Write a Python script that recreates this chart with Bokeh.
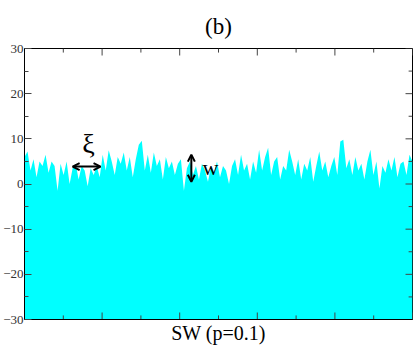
import numpy as np
from bokeh.plotting import figure
from bokeh.models import FixedTicker, Arrow, OpenHead, Label, Range1d
from bokeh.embed import file_html
from bokeh.resources import INLINE

# Surface heights (left to right, evenly spaced)
heights = [
    6, 7.2, 3, 5.5, 1.5, 5, 4, 6.5, 2.5, 5,
    4, -1.5, 4.5, 2, 5, 0, 3.5, 4.5, 1, 4,
    3, -0.5, 3.5, 2, 4, 1.5, 6.5, 3, 7.5, 5,
    2, 6, 4.5, 7, 3, 6, 1.5, 5.5, 8.7, 9.6,
    3, 6.5, 2.5, 7, 4, 5.5, 1, 6, 3.5, 5,
    2, 4.5, 5.5, -1.5, 3.5, 5, 2, 4, 1, 4.5,
    3, 0.5, 4, 2.5, 5, 1.5, 4, 3, 0, 4,
    5.5, 2, 6.5, 3, 4.5, 1, 5, 2.5, 7.6, 3,
    6, 8, 2, 5, 6, 1, 4, 3, 7.6, 5,
    2, 5.5, 1, 4.5, 3, 6, 0.5, 4, 7.2, 3,
    5, 1.5, 4, 6, 2, 9.4, 9.8, 3.5, 5.5, 2,
    6, 3, 4.5, 1, 5, 7.6, 2, 5, -1, 4,
    2.5, 5.5, 3, 6, 1.5, 4.5, 5, 2, 6.5, 5,
]
x_pos = np.linspace(0, 1000, len(heights))

X_MIN, X_MAX = 0, 1000
Y_MIN, Y_MAX = -30, 30
y_ticks = [-30, -20, -10, 0, 10, 20, 30]
y_minor = [-25, -15, -5, 5, 15, 25]
x_ticks = [0, 200, 400, 600, 800, 1000]
x_minor = [100, 300, 500, 700, 900]

# annotation positions (data units)
xi_arrow = (124, 196, 3.85)
w_arrow = (430, 6.5, 0.5)
xi_label = (165, 8.9)
w_label = (479, 3.6)

SERIF = "Liberation Serif"

p = figure(width=415, height=346, output_backend="svg", toolbar_location=None,
           x_range=Range1d(X_MIN, X_MAX), y_range=Range1d(Y_MIN, Y_MAX), title="(b)",
           min_border_top=48, min_border_bottom=25, min_border_left=24, min_border_right=3)

p.varea(x=x_pos, y1=Y_MIN, y2=heights, fill_color="#00FFFF")

p.xgrid.visible = False
p.ygrid.visible = False
p.outline_line_color = "black"
p.outline_line_width = 1

p.title.align = "center"
p.title.text_font = SERIF
p.title.text_font_size = "23px"
p.title.text_font_style = "normal"
p.title.text_color = "black"
p.title.standoff = 20

# left axis: real labels, inward ticks
ya = p.yaxis[0]
ya.ticker = FixedTicker(ticks=y_ticks, minor_ticks=y_minor)
ya.axis_line_color = "black"
ya.major_tick_in = 7
ya.major_tick_out = 0
ya.minor_tick_in = 4
ya.minor_tick_out = 0
ya.major_tick_line_color = "#444444"
ya.minor_tick_line_color = "#444444"
ya.major_label_text_font = SERIF
ya.major_label_text_font_size = "13px"
ya.major_label_text_color = "#333333"
ya.major_label_standoff = 1

# bottom axis: only the title; ticks drawn as segments below
xa = p.xaxis[0]
xa.ticker = FixedTicker(ticks=[])
xa.axis_line_color = "black"
xa.major_tick_in = 0
xa.major_tick_out = 0
xa.minor_tick_in = 0
xa.minor_tick_out = 0
xa.major_label_standoff = 0
xa.axis_label = "SW (p=0.1)"
xa.axis_label_text_font = SERIF
xa.axis_label_text_font_size = "20px"
xa.axis_label_text_font_style = "normal"
xa.axis_label_text_color = "black"
xa.axis_label_standoff = 2

# inward ticks on bottom, top and right edges (length in data units)
y_major_len, y_minor_len = 1.55, 0.9      # vertical ticks on horizontal edges
x_major_len, x_minor_len = 18, 10         # horizontal ticks on right edge
tick_color = "#444444"
for ticks, ln in ((x_ticks, y_major_len), (x_minor, y_minor_len)):
    p.segment(x0=ticks, y0=[Y_MIN] * len(ticks), x1=ticks, y1=[Y_MIN + ln] * len(ticks),
              line_color=tick_color, line_width=1)
    p.segment(x0=ticks, y0=[Y_MAX] * len(ticks), x1=ticks, y1=[Y_MAX - ln] * len(ticks),
              line_color=tick_color, line_width=1)
for ticks, ln in ((y_ticks, x_major_len), (y_minor, x_minor_len)):
    p.segment(x0=[X_MAX] * len(ticks), y0=ticks, x1=[X_MAX - ln] * len(ticks), y1=ticks,
              line_color=tick_color, line_width=1)

p.add_layout(Arrow(start=OpenHead(size=7, line_width=2), end=OpenHead(size=7, line_width=2),
                   x_start=xi_arrow[0], x_end=xi_arrow[1], y_start=xi_arrow[2], y_end=xi_arrow[2],
                   line_width=2, line_color="black"))
p.add_layout(Arrow(start=OpenHead(size=7, line_width=2), end=OpenHead(size=7, line_width=2),
                   x_start=w_arrow[0], x_end=w_arrow[0], y_start=w_arrow[1], y_end=w_arrow[2],
                   line_width=2, line_color="black"))
p.add_layout(Label(x=xi_label[0], y=xi_label[1], text="ξ", text_align="center", text_baseline="middle",
                   text_font=SERIF, text_font_size="28px", text_color="black"))
p.add_layout(Label(x=w_label[0], y=w_label[1], text="w", text_align="center", text_baseline="middle",
                   text_font=SERIF, text_font_size="22px", text_color="black"))

open("out.html", "w").write(file_html(p, INLINE))
